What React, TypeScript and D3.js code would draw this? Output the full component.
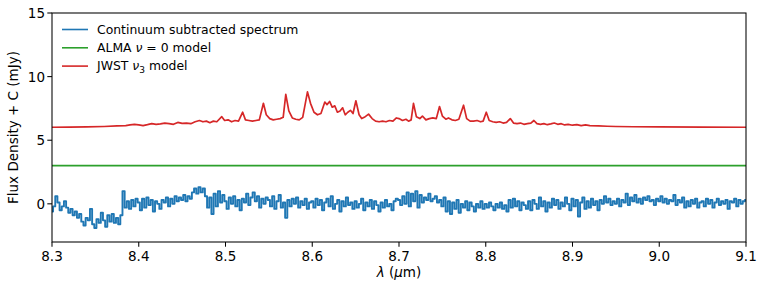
import React from "react";
import * as d3 from "d3";

// ---- data ----
const xTicks = [8.3, 8.4, 8.5, 8.6, 8.7, 8.8, 8.9, 9.0, 9.1];
const yTicks = [0, 5, 10, 15];

const specStart = 8.3;
const specStep = 0.0025;
const specFlux = [
  -0.6, -0.2, 0.6, 0.1, -0.5, -0.2, 0.2, -0.3, -0.7, -0.4, -0.9, -0.6, -1.1, -0.8, -1.4, -1.7, -1.1, -1.3, -0.4, -1.6,
  -1.9, -1.2, -1.5, -0.7, -1.3, -1.8, -0.9, -1.4, -0.8, -1.5, -1.1, -1.6, -0.9, 1.0, -0.3, 0.2, -0.4, 0.3, -0.2, 0.4,
  0.1, -0.5, 0.4, -0.3, 0.5, -0.1, 0.3, -0.6, 0.2, 0.0, -0.4, 0.3, 0.1, 0.5, -0.2, 0.4, 0.0, 0.6, 0.2, 0.5,
  0.3, 0.7, 0.2, 0.6, 0.4, 0.9, 1.2, 0.8, 1.3, 0.9, 1.2, 0.6, -0.3, 0.5, -0.8, 0.8, -0.2, 1.0, 0.1, 0.7,
  0.2, -0.4, 0.5, 0.0, 0.6, -0.2, 0.3, -0.5, 0.4, 0.1, 0.8, -0.1, 0.5, 0.9, 0.2, 0.6, -0.3, 0.4, 0.0, 0.5,
  0.3, -0.2, 0.6, -0.4, 0.2, 0.7, -0.3, 0.1, -1.1, 0.3, -0.2, 0.4, 0.0, 0.5, -0.3, 0.2, -0.1, 0.4, -0.4, 0.1,
  0.2, -0.3, 0.4, -0.1, 0.3, -0.5, 0.1, 0.4, -0.2, 0.6, -0.4, 0.0, 0.3, -0.6, 0.2, -0.2, 0.5, -0.1, 0.1, -0.4,
  0.2, -0.3, 0.0, 0.4, -0.5, 0.1, -0.2, 0.3, -0.4, 0.2, -0.1, -0.6, 0.1, -0.3, 0.3, -0.2, 0.0, -0.5, 0.2, 0.4,
  0.3, -0.1, 0.6, 0.0, 0.9, -0.2, 0.8, 0.2, 1.0, -0.3, 0.7, 0.1, 0.5, 0.3, 0.8, 0.2, 0.4, 0.6, 0.1, 0.3,
  -0.2, 0.5, -0.6, 0.2, -0.8, 0.1, -0.4, 0.3, -0.7, 0.0, -0.3, 0.2, -0.5, 0.1, -0.2, -0.6, 0.0, -0.3, 0.2, -0.4,
  0.0, -0.3, 0.1, -0.2, -0.5, 0.0, -0.3, 0.1, -0.4, -0.1, -0.6, 0.3, -0.3, 0.4, -0.2, 0.2, -0.5, 0.1, -0.1, -0.4,
  0.2, -0.5, 0.3, 0.0, -0.4, 0.5, -0.2, 0.2, -0.6, 0.1, -0.3, 0.4, -0.1, 0.3, -0.4, 0.1, -0.2, 0.5, 0.0, -0.5,
  0.4, -0.2, 0.3, -1.0, 0.1, 0.5, -0.4, 0.2, -0.3, 0.4, -0.1, 0.2, -0.5, 0.3, 0.0, 0.6, 0.1, 0.4, -0.1, 0.2,
  0.0, 0.4, -0.2, 0.3, 0.1, 0.8, -0.1, 0.5, 0.2, 0.7, 0.1, 0.4, 0.0, 0.5, 0.3, 0.6, 0.2, 0.3, -0.1, 0.4,
  0.2, 0.6, 0.1, 0.4, 0.0, 0.3, 0.2, 0.7, -0.1, 0.3, 0.1, 0.5, -0.3, 0.2, -0.2, 0.3, 0.0, 0.4, -0.3, 0.1,
  0.2, -0.2, 0.4, 0.0, 0.3, -0.3, 0.1, 0.4, -0.1, 0.2, 0.0, 0.3, -0.4, 0.2, 0.1, 0.4, -0.2, 0.3, 0.0, 0.2, 0.3,
];

const almaWl = [8.3, 9.1];
const almaFlux = [3.0, 3.0];

const jwstWl = [
  8.300, 8.320, 8.340, 8.360, 8.375, 8.385, 8.390, 8.395, 8.400, 8.405, 8.410, 8.415, 8.420, 8.425, 8.430, 8.435, 8.440, 8.445, 8.450, 8.455,
  8.460, 8.465, 8.470, 8.474, 8.478, 8.482, 8.486, 8.490, 8.4957, 8.499, 8.503, 8.507, 8.511, 8.515, 8.5198, 8.523, 8.527, 8.531, 8.535, 8.539,
  8.5437, 8.547, 8.551, 8.555, 8.559, 8.563, 8.5665, 8.5695, 8.573, 8.577, 8.581, 8.585, 8.589, 8.5945, 8.598, 8.602, 8.606, 8.610, 8.6145, 8.617,
  8.620, 8.623, 8.626, 8.629, 8.632, 8.635, 8.638, 8.641, 8.644, 8.647, 8.6503, 8.654, 8.657, 8.660, 8.6649, 8.669, 8.673, 8.677, 8.681, 8.685,
  8.689, 8.693, 8.697, 8.700, 8.704, 8.708, 8.711, 8.714, 8.7167, 8.720, 8.724, 8.727, 8.731, 8.735, 8.739, 8.743, 8.7467, 8.750, 8.754, 8.757,
  8.761, 8.765, 8.769, 8.7744, 8.778, 8.782, 8.786, 8.790, 8.794, 8.797, 8.8006, 8.804, 8.808, 8.812, 8.816, 8.820, 8.824, 8.8283, 8.832, 8.836,
  8.840, 8.844, 8.848, 8.852, 8.8555, 8.859, 8.863, 8.867, 8.871, 8.875, 8.879, 8.883, 8.887, 8.891, 8.895, 8.900, 8.905, 8.910, 8.915, 8.920,
  8.930, 8.940, 8.950, 8.970, 9.000, 9.050, 9.100,
];
const jwstFlux = [
  6.02, 6.03, 6.05, 6.08, 6.12, 6.15, 6.2, 6.25, 6.2, 6.15, 6.22, 6.3, 6.25, 6.28, 6.35, 6.3, 6.25, 6.4, 6.32, 6.35,
  6.3, 6.45, 6.55, 6.45, 6.5, 6.38, 6.5, 6.45, 6.85, 6.55, 6.6, 6.45, 6.55, 6.5, 7.2, 6.6, 6.55, 6.5, 6.55, 6.6,
  7.9, 7.0, 6.7, 6.6, 6.65, 6.7, 6.8, 8.6, 7.3, 6.75, 6.65, 6.6, 6.8, 8.8, 7.9, 7.2, 7.0, 7.1, 8.0, 7.8,
  8.05, 7.6, 7.7, 7.2, 7.3, 7.55, 7.0, 7.2, 7.35, 7.1, 8.1, 7.0, 6.7, 6.8, 7.05, 6.7, 6.5, 6.45, 6.5, 6.45,
  6.55, 6.5, 6.75, 6.7, 6.55, 6.65, 6.5, 6.6, 7.9, 6.85, 6.7, 6.9, 6.6, 6.7, 6.75, 6.7, 7.65, 6.9, 6.65, 6.75,
  6.6, 6.55, 6.65, 7.75, 6.7, 6.5, 6.5, 6.55, 6.45, 6.5, 7.2, 6.55, 6.45, 6.4, 6.45, 6.35, 6.4, 6.7, 6.35, 6.3,
  6.35, 6.25, 6.3, 6.35, 6.55, 6.3, 6.25, 6.3, 6.22, 6.28, 6.35, 6.25, 6.3, 6.2, 6.25, 6.18, 6.22, 6.15, 6.2, 6.15,
  6.12, 6.1, 6.08, 6.06, 6.05, 6.03, 6.02,
];

const legendLabels = ["Continuum subtracted spectrum", "ALMA ν = 0 model", "JWST ν₃ model"];
const colors = ["#1f77b4", "#2ca02c", "#d62728"];

// ---- layout ----
const W = 765, H = 290;
const left = 52, right = 746, top = 13, bottom = 242;
const FONT = "DejaVu Sans, sans-serif";

export default function App() {
  const x = d3.scaleLinear().domain([8.3, 9.1]).range([left, right]);
  const y = d3.scaleLinear().domain([-3, 15]).range([bottom, top]);

  const specWl = specFlux.map((_, i) => specStart + i * specStep);
  const stepLine = d3.line<number>()
    .x((_, i) => x(specWl[i]))
    .y((d) => y(d))
    .curve(d3.curveStep);
  const plainLine = (wl: number[]) =>
    d3.line<number>().x((_, i) => x(wl[i])).y((d) => y(d));

  return (
    <svg width={W} height={H} style={{ position: "absolute", left: 0, top: 0, background: "#fff" }}
      fontFamily={FONT}>
      <defs>
        <clipPath id="plot">
          <rect x={left} y={top} width={right - left} height={bottom - top} />
        </clipPath>
      </defs>
      <g clipPath="url(#plot)" fill="none" strokeLinejoin="round">
        <path d={stepLine(specFlux) || ""} stroke={colors[0]} strokeWidth={1.9} />
        <path d={plainLine(almaWl)(almaFlux) || ""} stroke={colors[1]} strokeWidth={1.6} />
        <path d={plainLine(jwstWl)(jwstFlux) || ""} stroke={colors[2]} strokeWidth={1.7} />
      </g>
      {/* spines */}
      <rect x={left} y={top} width={right - left} height={bottom - top} fill="none" stroke="#000" strokeWidth={1.05} />
      {/* x ticks */}
      {xTicks.map((t) => (
        <g key={"x" + t}>
          <line x1={x(t)} x2={x(t)} y1={bottom} y2={bottom + 4.7} stroke="#000" strokeWidth={1.05} />
          <text x={x(t)} y={bottom + 19} textAnchor="middle" fontSize={13.5} fill="#000">{t.toFixed(1)}</text>
        </g>
      ))}
      {/* y ticks */}
      {yTicks.map((t) => (
        <g key={"y" + t}>
          <line x1={left - 4.7} x2={left} y1={y(t)} y2={y(t)} stroke="#000" strokeWidth={1.05} />
          <text x={left - 7} y={y(t) + 5} textAnchor="end" fontSize={13.5} fill="#000">{t}</text>
        </g>
      ))}
      {/* axis labels */}
      <text x={(left + right) / 2} y={277} textAnchor="middle" fontSize={13.5} fill="#000">
        <tspan fontStyle="italic">λ</tspan> (<tspan fontStyle="italic">μ</tspan>m)
      </text>
      <text transform={`translate(18,${(top + bottom) / 2}) rotate(-90)`} textAnchor="middle" fontSize={13.5} fill="#000">
        Flux Density + C (mJy)
      </text>
      {/* legend */}
      {legendLabels.map((lab, i) => {
        const ly = 29.5 + i * 18.3;
        return (
          <g key={lab}>
            <line x1={62} x2={88} y1={ly} y2={ly} stroke={colors[i]} strokeWidth={1.6} />
            <text x={97} y={ly + 4.3} fontSize={12.4} fill="#000">
              {i === 0 && lab}
              {i === 1 && (<>ALMA <tspan fontStyle="italic">ν</tspan> = 0 model</>)}
              {i === 2 && (<>JWST <tspan fontStyle="italic">ν</tspan><tspan fontSize={9} dy={2.8}>3</tspan><tspan dy={-2.8}> model</tspan></>)}
            </text>
          </g>
        );
      })}
    </svg>
  );
}
